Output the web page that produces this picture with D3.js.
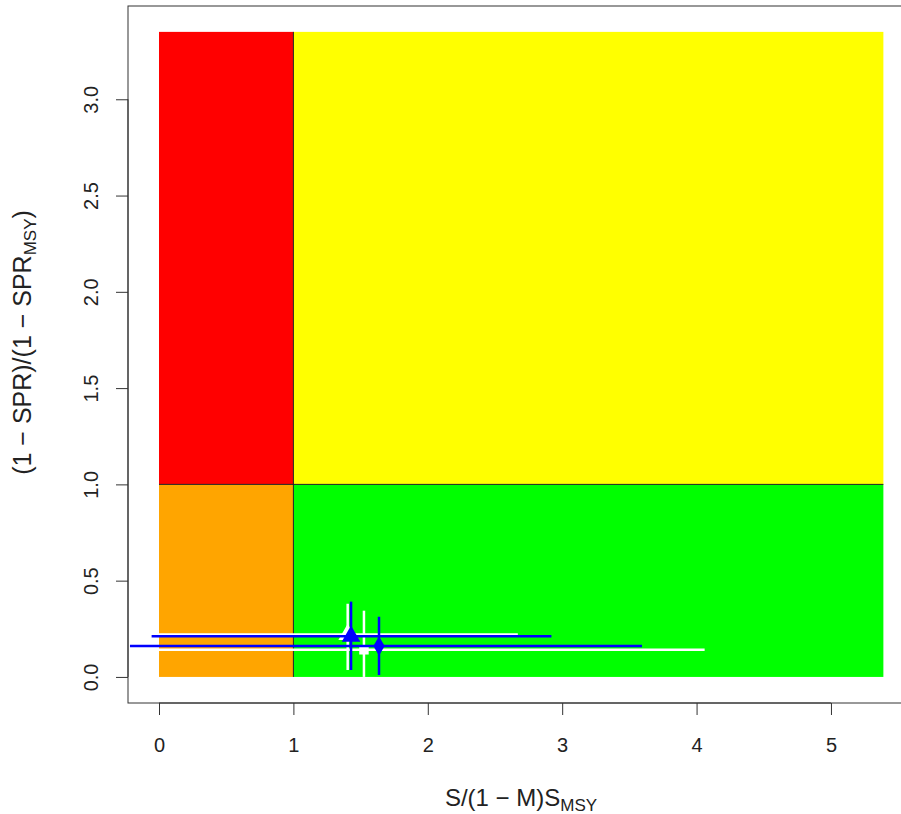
<!DOCTYPE html>
<html>
<head>
<meta charset="utf-8">
<script src="https://cdn.jsdelivr.net/npm/d3@7"></script>
<style>
  body { margin: 0; background: #fff; }
  text { font-family: "Liberation Sans", Arial, sans-serif; }
</style>
</head>
<body>
<div id="chart"></div>
<script>
// status zones
var zoneX0 = [0, 1, 0, 1];
var zoneX1 = [1, 5.39, 1, 5.39];
var zoneY0 = [1, 1, 0, 0];
var zoneY1 = [3.35, 3.35, 1, 1];
var zoneColor = ["#ff0000", "#ffff00", "#ffa500", "#00ff00"];

// estimates (white drawn first, blue on top)
var ptColor = ["white", "white", "blue", "blue"];
var ptShape = ["triangle", "square", "triangle", "diamond"];
var ptX = [1.404, 1.525, 1.429, 1.637];
var ptY = [0.22, 0.141, 0.211, 0.161];
var ptXlo = [-0.02, -0.10, -0.055, -0.216];
var ptXhi = [2.67, 4.06, 2.92, 3.594];
var ptYlo = [0.036, 0.0, 0.036, 0.01];
var ptYhi = [0.38, 0.344, 0.391, 0.3125];

var xTicks = [0, 1, 2, 3, 4, 5];
var yTicks = [0, 0.5, 1, 1.5, 2, 2.5, 3];

var width = 901, height = 814;
var plotL = 128, plotT = 6, plotR = 912, plotB = 703;

var svg = d3.select("#chart").append("svg")
  .attr("width", width)
  .attr("height", height);

var x = d3.scaleLinear().domain([-0.2307, 5.603]).range([plotL, plotR]);
var y = d3.scaleLinear().domain([-0.1354, 3.4844]).range([plotB, plotT]);

svg.append("clipPath").attr("id", "clip")
  .append("rect")
  .attr("x", plotL).attr("y", plotT)
  .attr("width", plotR - plotL).attr("height", plotB - plotT);

var plot = svg.append("g").attr("clip-path", "url(#clip)");

// coloured zones
plot.selectAll("rect.zone")
  .data(zoneColor)
  .enter()
  .append("rect")
  .attr("class", "zone")
  .attr("x", function(d, i) { return x(zoneX0[i]); })
  .attr("y", function(d, i) { return y(zoneY1[i]); })
  .attr("width", function(d, i) { return x(zoneX1[i]) - x(zoneX0[i]); })
  .attr("height", function(d, i) { return y(zoneY0[i]) - y(zoneY1[i]); })
  .attr("fill", function(d) { return d; });

// reference lines at 1
plot.append("line")
  .attr("x1", x(1)).attr("x2", x(1))
  .attr("y1", y(0)).attr("y2", y(3.35))
  .attr("stroke", "#222").attr("stroke-width", 1);
plot.append("line")
  .attr("x1", x(0)).attr("x2", x(5.39))
  .attr("y1", y(1)).attr("y2", y(1))
  .attr("stroke", "#222").attr("stroke-width", 1);

// error bars + points
for (var i = 0; i < ptX.length; i++) {
  var g = plot.append("g");
  g.append("line")
    .attr("x1", x(ptXlo[i])).attr("x2", x(ptXhi[i]))
    .attr("y1", y(ptY[i])).attr("y2", y(ptY[i]))
    .attr("stroke", ptColor[i]).attr("stroke-width", 2.5);
  g.append("line")
    .attr("x1", x(ptX[i])).attr("x2", x(ptX[i]))
    .attr("y1", y(ptYlo[i])).attr("y2", y(ptYhi[i]))
    .attr("stroke", ptColor[i]).attr("stroke-width", 2.5);
  var sym = ptShape[i] == "triangle" ? d3.symbolTriangle :
            ptShape[i] == "diamond" ? d3.symbolDiamond : d3.symbolSquare;
  var size = ptShape[i] == "triangle" ? 150 : ptShape[i] == "diamond" ? 110 : 90;
  g.append("path")
    .attr("d", d3.symbol().type(sym).size(size)())
    .attr("transform", "translate(" + x(ptX[i]) + "," + y(ptY[i]) + ")")
    .attr("fill", ptColor[i]);
}

// box
svg.append("rect")
  .attr("x", plotL).attr("y", plotT)
  .attr("width", plotR - plotL).attr("height", plotB - plotT)
  .attr("fill", "none").attr("stroke", "#333").attr("stroke-width", 1);

// x axis
var xAxis = svg.append("g")
  .attr("transform", "translate(0," + plotB + ")")
  .call(d3.axisBottom(x).tickValues(xTicks).tickSize(12).tickPadding(23).tickFormat(d3.format("d")));
xAxis.select(".domain").attr("d", "M" + x(0) + ",0H" + x(5));
xAxis.selectAll("text").attr("font-size", 20).attr("fill", "#222").style("font-family", "Liberation Sans, Arial, sans-serif");
xAxis.selectAll("line, path").attr("stroke", "#333");

// y axis (labels parallel to axis, like R)
var yAxis = svg.append("g")
  .attr("transform", "translate(" + plotL + ",0)")
  .call(d3.axisLeft(y).tickValues(yTicks).tickSize(12).tickFormat(d3.format(".1f")));
yAxis.select(".domain").attr("d", "M0," + y(0) + "V" + y(3));
yAxis.selectAll("line, path").attr("stroke", "#333");
yAxis.selectAll("text")
  .attr("x", null).attr("dy", null)
  .attr("text-anchor", "middle")
  .attr("transform", "translate(-30,0) rotate(-90)")
  .attr("y", 0)
  .attr("font-size", 20).attr("fill", "#222")
  .style("font-family", "Liberation Sans, Arial, sans-serif");

// axis titles
var xt = svg.append("text")
  .attr("x", 521)
  .attr("y", 806)
  .attr("text-anchor", "middle")
  .attr("font-size", 24)
  .attr("fill", "#222");
xt.append("tspan").text("S/(1 \u2212 M)S");
xt.append("tspan").attr("font-size", 17).attr("dy", 5).text("MSY");

var yt = svg.append("text")
  .attr("transform", "translate(31," + ((plotT + plotB) / 2 - 12) + ") rotate(-90)")
  .attr("text-anchor", "middle")
  .attr("font-size", 25)
  .attr("fill", "#222");
yt.append("tspan").text("(1 \u2212 SPR)/(1 \u2212 SPR");
yt.append("tspan").attr("font-size", 17).attr("dy", 5).text("MSY");
yt.append("tspan").attr("dy", -5).text(")");
</script>
</body>
</html>
